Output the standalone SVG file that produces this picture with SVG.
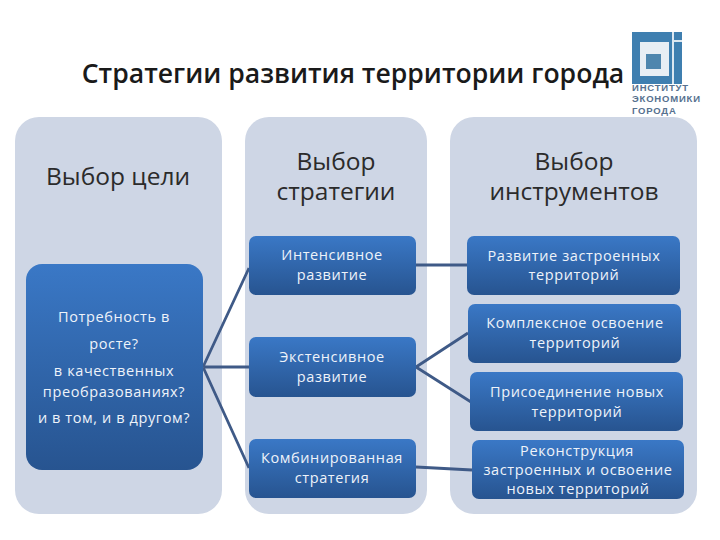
<svg xmlns="http://www.w3.org/2000/svg" width="720" height="540" viewBox="0 0 720 540">
<style>
text{font-family:"Open Sans","Liberation Sans",sans-serif;text-anchor:middle}
.col{fill:#ced6e5}
.box{fill:url(#g)}
.h{font-size:24.5px;fill:#2b2b2b}
.t{font-size:14.5px;fill:#eef3fa;letter-spacing:.6px}
.c{stroke:#3f5a87;stroke-width:2.8;fill:none}
.logo{font-size:9.5px;font-weight:700;fill:#56718f;text-anchor:start;font-family:"Liberation Sans",sans-serif;letter-spacing:.8px}
</style>
<defs><linearGradient id="g" x1="0" y1="0" x2="0" y2="1"><stop offset="0" stop-color="#3a78c6"/><stop offset="1" stop-color="#275490"/></linearGradient></defs>
<rect width="720" height="540" fill="#fff"/>
<text x="353" y="83" font-size="26.6" font-weight="600" fill="#1a1a1a">Стратегии развития территории города</text>
<g id="logo">
<rect x="632" y="32" width="50" height="52" fill="#3f7fb0"/>
<rect x="640" y="42" width="29" height="34" fill="#e8eef4"/>
<rect x="646" y="54" width="15" height="15" fill="#4f86ae"/>
<rect x="672" y="32" width="2" height="52" fill="#dce7f0"/>
<rect x="674" y="40" width="8" height="2" fill="#dce7f0"/>
<text class="logo" x="632" y="91">ИНСТИТУТ</text>
<text class="logo" x="632" y="102">ЭКОНОМИКИ</text>
<text class="logo" x="632" y="114">ГОРОДА</text>
</g>
<g id="col1"><rect class="col" x="15" y="117" width="207" height="397" rx="24"/><text class="h" x="118" y="185">Выбор цели</text></g>
<g id="col2"><rect class="col" x="245" y="117" width="182" height="397" rx="24"/><text class="h" x="336" y="170">Выбор</text><text class="h" x="336" y="200">стратегии</text></g>
<g id="col3"><rect class="col" x="450" y="117" width="247" height="397" rx="24"/><text class="h" x="574" y="170">Выбор</text><text class="h" x="574" y="200">инструментов</text></g>
<g id="connectors">
<path class="c" d="M203 367L249 268M203 367H249M203 367L249 468"/>
<path class="c" d="M416 265H468M416 367L468 333M416 367L471 402M416 467L472 470"/>
</g>
<g id="n-goal"><rect class="box" x="26" y="264" width="177" height="206" rx="16"/>
<text class="t" x="114" y="322">Потребность в</text><text class="t" x="114" y="349">росте?</text><text class="t" x="114" y="376">в качественных</text><text class="t" x="114" y="397">преобразованиях?</text><text class="t" x="114" y="423">и в том, и в другом?</text></g>
<g id="n1"><rect class="box" x="249" y="236" width="167" height="59" rx="7"/><text class="t" x="332" y="260">Интенсивное</text><text class="t" x="332" y="280">развитие</text></g>
<g id="n2"><rect class="box" x="249" y="337" width="167" height="60" rx="7"/><text class="t" x="332" y="362">Экстенсивное</text><text class="t" x="332" y="382">развитие</text></g>
<g id="n3"><rect class="box" x="249" y="439" width="167" height="59" rx="7"/><text class="t" x="332" y="463">Комбинированная</text><text class="t" x="332" y="483">стратегия</text></g>
<g id="n4"><rect class="box" x="467" y="236" width="213" height="59" rx="7"/><text class="t" x="574" y="261">Развитие застроенных</text><text class="t" x="574" y="280">территорий</text></g>
<g id="n5"><rect class="box" x="468" y="304" width="213" height="59" rx="7"/><text class="t" x="575" y="328">Комплексное освоение</text><text class="t" x="575" y="348">территорий</text></g>
<g id="n6"><rect class="box" x="470" y="372" width="213" height="59" rx="7"/><text class="t" x="577" y="397">Присоединение новых</text><text class="t" x="577" y="417">территорий</text></g>
<g id="n7"><rect class="box" x="472" y="440" width="212" height="59" rx="7"/><text class="t" x="577" y="456">Реконструкция</text><text class="t" x="578" y="475">застроенных и освоение</text><text class="t" x="578" y="494">новых территорий</text></g>
</svg>
